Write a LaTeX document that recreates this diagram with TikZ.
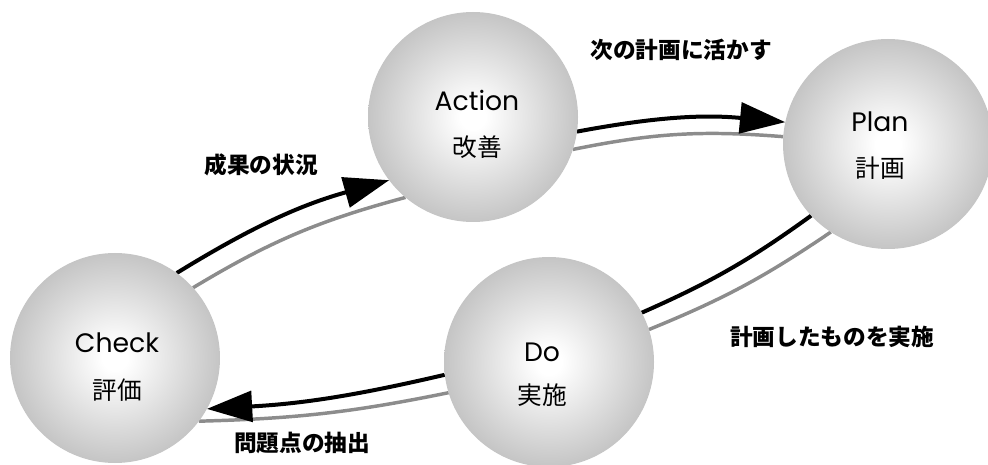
\documentclass[tikz,border=0pt]{standalone}
\usepackage{fontspec}
\newfontfamily\jp{Noto Sans CJK JP}
\newfontfamily\lat{Poppins}
\usetikzlibrary{arrows.meta,backgrounds}
\definecolor{ballgray}{gray}{0.62}
\definecolor{ballmid}{gray}{0.72}
\definecolor{linegray}{gray}{0.55}
\pgfdeclareradialshading{ballshade}{\pgfpoint{0bp}{0bp}}{color(0bp)=(white); color(3bp)=(white); color(30bp)=(ballmid); color(50bp)=(ballgray)}
\begin{document}
\begin{tikzpicture}[x=0.75pt,y=0.75pt,
  phase/.style={circle, minimum size=157.5pt, inner sep=0pt, outer sep=0pt, shading=ballshade},
  entext/.style={font=\lat\fontsize{20}{24}\selectfont, inner sep=0pt},
  jptext/.style={font=\jp\fontsize{18.5}{22}\selectfont, inner sep=0pt},
  steplabel/.style={font=\jp\bfseries\fontsize{17}{20}\selectfont, inner sep=0pt},
  blackline/.style={line width=3pt, black},
  grayline/.style={line width=2.6pt, linegray},
  bigtip/.style={-{Triangle[length=34pt,width=23pt]}}]
\useasboundingbox (0,0) rectangle (988,464);
\node[phase] (A) at (473,347) {};
\node[phase] (P) at (888,320) {};
\node[phase] (D) at (549,102) {};
\node[phase] (C) at (115,106) {};
\node[entext] (at) at (477,364) {Action};
\node[jptext] (aj) at (477,317) {改善};
\node[entext] (pt) at (880,342) {Plan};
\node[jptext] (pj) at (880,296) {計画};
\node[entext] (ct) at (117,121) {Check};
\node[jptext] (cj) at (117,74) {評価};
\node[entext] (dt) at (542,112) {Do};
\node[jptext] (dj) at (542,69) {実施};
\node[steplabel] (l1) at (681,414) {次の計画に活かす};
\node[steplabel] (l2) at (832,127) {計画したものを実施};
\node[steplabel] (l3) at (302,21) {問題点の抽出};
\node[steplabel] (l4) at (261,299) {成果の状況};
\begin{pgfonlayer}{background}
\draw[grayline] (A.-18) to[bend left=8] (P.176);
\draw[blackline,bigtip] (A.-8) to[bend left=8] (P.168);
\draw[grayline] (P.237) to[bend left=6] (D.18);
\draw[blackline] (P.223) to[bend left=6] (D.28);
\draw[grayline] (D.197) to[bend left=5] (C.-37);
\draw[blackline,bigtip] (D.187) to[bend left=5] (C.-29);
\draw[grayline] (C.42) to[bend left=8] (A.230);
\draw[blackline,bigtip] (C.54) to[bend left=8] (A.217);
\end{pgfonlayer}
\end{tikzpicture}
\end{document}
